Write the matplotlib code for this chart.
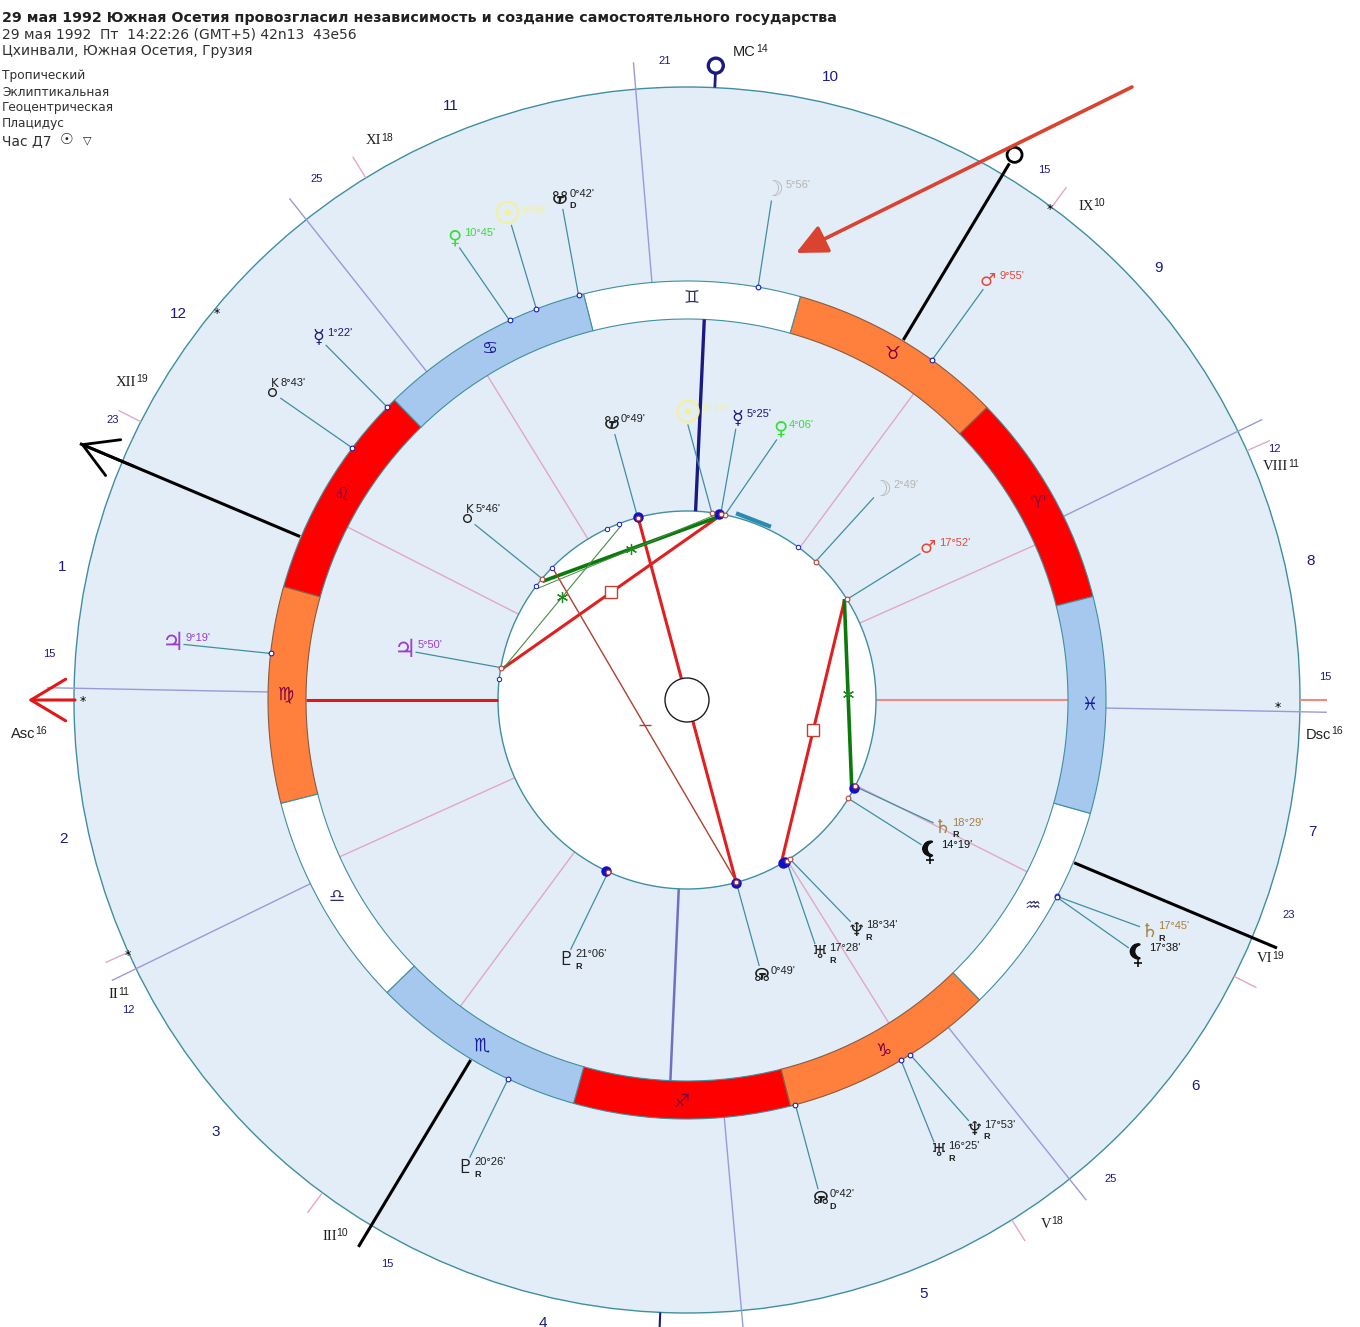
"""South Ossetia biwheel chart, redrawn on a pixel-sized axes centred on the wheel."""

import numpy as np
import matplotlib

matplotlib.use("Agg")
import matplotlib.pyplot as plt
import matplotlib.patheffects as pe
from matplotlib.patches import Circle, Wedge, Rectangle

TEAL = "#3f8f9f"
NAVY = "#1a1a80"
PANEL = "#e3edf8"
PINK = "#e0a8c8"
PURPLE = "#9a9ad8"

WIDTH, HEIGHT = 1360, 1327
CX, CY = 687, 700

# sign order from Aries, ring starts at this angle
ARIES_ANGLE = 14.3
SIGN_GLYPHS = ["♈", "♉", "♊", "♋", "♌", "♍", "♎", "♏", "♐", "♑", "♒", "♓"]
SIGN_FILLS = ["#ff0000", "#ff7f3c", "#ffffff", "#a6c8ee"] * 3
SIGN_INK = ["#800040", "#800040", "#303060", "#1a1a9a"] * 3

# outer wheel: glyph, sign index, degree, minute, glyph angle, colour, retro/direct mark
OUTER_GLYPHS = ["☽", "☋", "☉", "♀", "☿", "K", "♃", "♂", "♄", "☾", "♆", "♅", "☊", "♇"]
OUTER_SIGNS = [2, 3, 3, 3, 4, 4, 5, 1, 10, 10, 9, 9, 9, 7]
OUTER_DEG = [5, 0, 6, 10, 1, 8, 9, 9, 17, 17, 17, 16, 0, 20]
OUTER_MIN = [56, 42, 46, 45, 22, 43, 19, 55, 45, 38, 53, 25, 42, 26]
OUTER_ANGLE = [80.4, 104.2, 110.3, 116.7, 135.5, 143.4, 173.7, 54.2, -26.6, -29.3, -56.2, -60.8, -75, -115.4]
OUTER_MARK = ["", "D", "", "", "", "", "", "", "R", "", "R", "R", "D", "R"]

# inner wheel
INNER_GLYPHS = ["☽", "♂", "♀", "☿", "☉", "☋", "K", "♃", "♇", "☊", "♅", "♆", "☾", "♄"]
INNER_SIGNS = [1, 0, 2, 2, 2, 3, 4, 5, 7, 9, 9, 9, 10, 10]
INNER_DEG = [2, 17, 4, 5, 8, 0, 5, 5, 21, 0, 17, 18, 14, 18]
INNER_MIN = [49, 52, 6, 25, 10, 49, 46, 50, 6, 49, 28, 34, 19, 29]
INNER_ANGLE = [47.3, 32.1, 71, 79.8, 89.8, 105.2, 140.4, 170, -115, -74.8, -62.3, -53.6, -31.7, -26.5]
INNER_MARK = ["", "", "", "", "", "", "", "", "R", "", "R", "R", "", "R"]

PLANET_COLORS = {
    "☽": "#b4b4b4", "☉": "#f2f29c", "♀": "#35e035", "♂": "#e24a3a", "♃": "#9a3fd0",
    "♄": "#a8803f", "☿": "#1a1a80", "♅": "#202020", "♆": "#202020", "♇": "#202020",
    "☊": "#202020", "☋": "#202020", "K": "#202020", "☾": "#101010",
}
PLANET_SIZES = {"☉": 22, "☽": 16, "♃": 18, "♀": 14, "♂": 13, "☿": 14, "♄": 14, "♅": 13, "♆": 14,
                "☊": 13, "☋": 13, "♇": 14, "☾": 14}
LABEL_SHIFT = {"☉": 15, "☽": 12, "♃": 12, "♂": 10, "☾": 11}

# cusps of the two wheels, angles on the picture
INNER_CUSPS = [121.6, 153, 24, 53.5, -58, -26.8, -155.7, -126.5]
OUTER_CUSPS = [94.8, 128.4, 26, 178.9, -84.9, -51.4, -154, -1.1]
MC_ANGLE = 87.4
IC_ANGLE = -92.5

HOUSE_NUMBERS = ["10", "11", "12", "1", "2", "3", "4", "5", "6", "7", "8", "9"]
HOUSE_ANGLES = [77, 111.7, 142.8, 168, -167.4, -137.5, -103, -68.3, -37.2, -11.9, 12.6, 42.5]
DEGREE_NUMBERS = ["21", "25", "23", "15", "12", "15", "25", "23", "15", "12", "15"]
DEGREE_ANGLES = [92, 125.4, 154, 175.9, -151, -118, -48.5, -19.7, 2.1, 23.1, 56]

ANGLE_NAMES = ["MC", "XI", "XII", "Asc", "II", "III", "V", "VI", "VIII", "IX", "Dsc"]
ANGLE_DEGREES = ["14", "18", "19", "16", "11", "10", "18", "19", "11", "10", "16"]
ANGLE_X = [733, 366, 116, 11, 108, 322, 1041, 1257, 1263, 1078, 1306]
ANGLE_Y = [52, 141, 382, 734, 995, 1236, 1224, 959, 467, 206, 735]

# aspect lines: end angles, colour, width, midpoint marker
ASPECT_FROM = [105, 170, 32.2, 32.2, 140.1, 170, 135.7, 143]
ASPECT_TO = [-74.9, 80.2, -59.3, -27.7, 80.2, 110.9, -75, 82]
ASPECT_COLORS = ["#e02020", "#e02020", "#e02020", "#0a7a0a", "#0a7a0a", "#4a8a4a", "#b04030", "#4a8a4a"]
ASPECT_WIDTHS = [2.2, 2.2, 2.2, 2.6, 2.6, 0.8, 1.0, 0.7]
ASPECT_MARKS = ["", "s", "s", "*", "*", "*", "_", ""]

FILLED_DOTS = [105, 80.2, -75, -59.3, -58.8, -27.7, -115.3]
STAR_X = [83, 217, 1050, 1278, 128]
STAR_Y = [699, 311, 208, 706, 953]

# black rays: angle and how far they run
RAY_ANGLES = [157.1, 59, -22.8, -121]
RAY_ENDS = [659, 626, 640, 638]

TITLE = "29 мая 1992 Южная Осетия провозгласил независимость и создание самостоятельного государства"
HEADER_LINES = ["29 мая 1992  Пт  14:22:26 (GMT+5) 42n13  43e56", "Цхинвали, Южная Осетия, Грузия"]
HEADER_Y = [35, 51]
SETTINGS = ["Тропический", "Эклиптикальная", "Геоцентрическая", "Плацидус"]
SETTINGS_Y = [75, 92, 108, 124]


def px(x, y):
    return x - CX, CY - y


def polar(angle, radius):
    rad = np.deg2rad(angle)
    return radius * np.cos(rad), radius * np.sin(rad)


def sign_angle(sign, deg, minute):
    return ARIES_ANGLE + sign * 30 + deg + minute / 60


def radial(ax, angle, r0, r1, **kwargs):
    x0, y0 = polar(angle, r0)
    x1, y1 = polar(angle, r1)
    ax.plot([x0, x1], [y0, y1], solid_capstyle="butt", **kwargs)


def draw_glyph(ax, glyph, gx, gy, color):
    if glyph == "K":
        ax.text(gx + 3, gy + 8, glyph, color=color, fontsize=8.5, ha="center", va="center", zorder=6)
        ax.plot(gx, gy, "o", ms=5.5, mfc="none", mec=color, mew=1, zorder=6)
        return
    if glyph == "♂":
        gx -= 2
    text = ax.text(gx, gy, glyph, color=color, fontsize=PLANET_SIZES[glyph], family="DejaVu Sans",
                   ha="center", va="center", zorder=6)
    if glyph == "☾":
        text.set_path_effects([pe.withStroke(linewidth=1.6, foreground=color)])
        ax.plot(gx, gy - 10, marker="+", ms=6, mew=1.2, color=color, zorder=6)
    elif glyph == "☉":
        text.set_path_effects([pe.withStroke(linewidth=0.8, foreground=color)])
    elif glyph in ("☊", "☋"):
        ax.plot(gx, gy, marker="$т$", ms=4, color=color, zorder=6)


def draw_planets(ax, glyphs, signs, degs, mins, angles, marks, dot_r, glyph_r, ring_color):
    for glyph, sign, deg, minute, g_angle, mark in zip(glyphs, signs, degs, mins, angles, marks):
        dot_angle = sign_angle(sign, deg, minute)
        color = PLANET_COLORS[glyph]
        x0, y0 = polar(dot_angle, dot_r)
        x1, y1 = polar(g_angle, glyph_r - 11)
        gx, gy = polar(g_angle, glyph_r)
        ax.plot([x0, x1], [y0, y1], color=TEAL, lw=0.9, zorder=4)
        ax.plot(x0, y0, "o", ms=3.4, mfc="white", mec=ring_color, mew=0.8, zorder=7)
        draw_glyph(ax, glyph, gx, gy, color)
        tx = gx + LABEL_SHIFT.get(glyph, 9)
        ty = gy + 9 if glyph == "K" else gy + 5
        ax.text(tx, ty, f"{deg}°{minute:02d}'", color=color, fontsize=8,
                family="Liberation Sans", ha="left", va="center", zorder=6)
        if mark:
            ax.text(gx + 9, gy - 7, mark, color="#202020", fontsize=6.5, fontweight="bold",
                    family="Liberation Sans", ha="left", va="center", zorder=6)


def main():
    fig = plt.figure(figsize=(WIDTH / 100, HEIGHT / 100), dpi=100)
    ax = fig.add_axes([0, 0, 1, 1])
    ax.set_xlim(-CX, WIDTH - CX)
    ax.set_ylim(CY - HEIGHT, CY)
    ax.axis("off")

    ax.add_patch(Circle((0, 0), 613, fc=PANEL, ec=TEAL, lw=1, zorder=1))

    # zodiac ring
    for i, glyph in enumerate(SIGN_GLYPHS):
        start = ARIES_ANGLE + i * 30
        fill = SIGN_FILLS[i]
        edge = "#8a5a40" if fill == "#ff7f3c" else TEAL
        ax.add_patch(Wedge((0, 0), 419, start, start + 30, width=38, fc=fill, ec=edge, lw=0.8, zorder=2))
        gx, gy = polar(start + 15, 402)
        ax.text(gx, gy, glyph, color=SIGN_INK[i], fontsize=13, family="DejaVu Sans",
                ha="center", va="center", zorder=3)
    ax.add_patch(Circle((0, 0), 189, fc="white", ec=TEAL, lw=1, zorder=2))

    # house cusps
    for angle in INNER_CUSPS:
        radial(ax, angle, 189, 381, color=PINK, lw=1, zorder=1.5)
        radial(ax, angle, 613, 638, color=PINK, lw=1, zorder=1.5)
    for angle in OUTER_CUSPS:
        radial(ax, angle, 419, 640, color=PURPLE, lw=1, zorder=1.5)
    radial(ax, 180, 189, 381, color="#e01818", lw=2.2, zorder=3)
    radial(ax, 0, 189, 381, color="#f08a80", lw=1.5, zorder=1.5)
    radial(ax, 0, 613, 640, color="#f08a80", lw=1.5, zorder=1.5)
    radial(ax, MC_ANGLE, 189, 381, color=NAVY, lw=2.4, zorder=3)
    radial(ax, IC_ANGLE, 189, 381, color="#7070c0", lw=1.8, zorder=3)
    radial(ax, IC_ANGLE, 613, 640, color=NAVY, lw=1.5, zorder=3)
    radial(ax, MC_ANGLE, 613, 627, color=NAVY, lw=2, zorder=3)
    mx, my = polar(MC_ANGLE, 635)
    ax.add_patch(Circle((mx, my), 7.5, fc="none", ec=NAVY, lw=2.4, zorder=3))

    # red axis arrow at Asc
    ax.annotate("", xy=polar(180, 659), xytext=polar(180, 612),
                arrowprops=dict(arrowstyle="->,head_length=2.5,head_width=1.5", color="#e01818", lw=2.2,
                                shrinkA=0, shrinkB=0))

    # black rays
    for angle, end in zip(RAY_ANGLES, RAY_ENDS):
        radial(ax, angle, 420, end, color="black", lw=2.2, zorder=3)
    ax.annotate("", xy=polar(RAY_ANGLES[0], RAY_ENDS[0]), xytext=polar(RAY_ANGLES[0], 600),
                arrowprops=dict(arrowstyle="->,head_length=2.4,head_width=1.4", color="black", lw=2,
                                shrinkA=0, shrinkB=0))
    cx, cy = polar(RAY_ANGLES[1], 636)
    ax.add_patch(Circle((cx, cy), 7.5, fc="white", ec="black", lw=2, zorder=3))

    # big red pointer
    ax.annotate("", xy=px(796, 253), xytext=px(1132, 87),
                arrowprops=dict(arrowstyle="-|>,head_length=1.9,head_width=0.9", color="#d9432f", lw=2.6,
                                shrinkA=0, shrinkB=0), zorder=8)

    # aspects
    for start, end, color, width, mark in zip(ASPECT_FROM, ASPECT_TO, ASPECT_COLORS, ASPECT_WIDTHS, ASPECT_MARKS):
        x0, y0 = polar(start, 186)
        x1, y1 = polar(end, 186)
        ax.plot([x0, x1], [y0, y1], color=color, lw=width, zorder=5)
        mid = (x0 + x1) / 2, (y0 + y1) / 2
        if mark == "s":
            ax.add_patch(Rectangle((mid[0] - 6, mid[1] - 6), 12, 12, fc="white", ec="#c04030", lw=1, zorder=6))
        elif mark == "*":
            ax.plot(*mid, marker=(6, 2, 0), ms=8, color="#208a20", mew=0.9, zorder=6)
        elif mark == "_":
            ax.plot(*mid, marker="_", ms=8, color=color, mew=1, zorder=6)
    ax.plot([px(738, 514)[0], px(769, 526)[0]], [px(738, 514)[1], px(769, 526)[1]],
            color="#2a8ab0", lw=3, zorder=5)
    ax.add_patch(Circle((0, 0), 22, fc="white", ec="#202020", lw=1, zorder=6))

    for angle in FILLED_DOTS:
        x, y = polar(angle, 189)
        ax.plot(x, y, "o", ms=6.5, color="#1010c8", zorder=6)

    draw_planets(ax, OUTER_GLYPHS, OUTER_SIGNS, OUTER_DEG, OUTER_MIN, OUTER_ANGLE, OUTER_MARK, 419, 517, "#1a1ac0")
    draw_planets(ax, INNER_GLYPHS, INNER_SIGNS, INNER_DEG, INNER_MIN, INNER_ANGLE, INNER_MARK, 189, 286, "#c04030")
    # outer planets also project onto the inner circle
    for sign, deg, minute in zip(OUTER_SIGNS, OUTER_DEG, OUTER_MIN):
        x, y = polar(sign_angle(sign, deg, minute), 189)
        ax.plot(x, y, "o", ms=3.2, mfc="white", mec="#1a1ac0", mew=0.7, zorder=5.5)

    for x, y in zip(STAR_X, STAR_Y):
        ax.text(*px(x, y + 2), "*", fontsize=9, ha="center", va="center", color="black", zorder=6)

    for label, angle in zip(HOUSE_NUMBERS, HOUSE_ANGLES):
        ax.text(*polar(angle, 639), label, color=NAVY, fontsize=11, ha="center", va="center",
                family="Liberation Sans")
    for label, angle in zip(DEGREE_NUMBERS, DEGREE_ANGLES):
        ax.text(*polar(angle, 639), label, color=NAVY, fontsize=8, ha="center", va="center",
                family="Liberation Sans")
    for name, degree, x, y in zip(ANGLE_NAMES, ANGLE_DEGREES, ANGLE_X, ANGLE_Y):
        family = "Liberation Sans" if name in ("MC", "Asc", "Dsc") else "Liberation Serif"
        base = ax.text(*px(x, y), name, color="#202020", fontsize=10.5, family=family,
                       ha="left", va="center")
        ax.annotate(degree, xy=(1, 0.75), xycoords=base, color="#202020", fontsize=7.5,
                    family="Liberation Sans", ha="left", va="center")

    # header
    ax.text(*px(2, 18), TITLE, fontsize=10.25, fontweight="bold", color="#202020", ha="left", va="center",
            family="DejaVu Sans")
    for line, y in zip(HEADER_LINES, HEADER_Y):
        ax.text(*px(2, y), line, fontsize=10, color="#303030", ha="left", va="center", family="DejaVu Sans")
    for line, y in zip(SETTINGS, SETTINGS_Y):
        ax.text(*px(2, y), line, fontsize=8.7, color="#303030", ha="left", va="center", family="DejaVu Sans")
    ax.text(*px(2, 141), "Час Д7", fontsize=10, color="#303030", ha="left", va="center", family="DejaVu Sans")
    ax.text(*px(67, 140), "☉", fontsize=11, color="#202020", ha="center", va="center", family="DejaVu Sans")
    ax.text(*px(87, 140), "▽", fontsize=8, color="#202020", ha="center", va="center", family="DejaVu Sans")

    fig.savefig("out.png", dpi=100, facecolor="white")
    plt.close(fig)


if __name__ == "__main__":
    main()
